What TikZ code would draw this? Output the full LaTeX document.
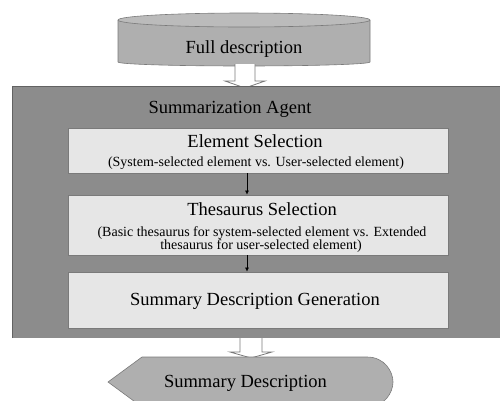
\documentclass[tikz,border=0pt]{standalone}
\usepackage{fontspec}
\setmainfont{Liberation Serif}
\usetikzlibrary{arrows.meta, positioning}
\definecolor{agentgray}{HTML}{8C8C8C}
\definecolor{boxfill}{HTML}{E6E6E6}
\definecolor{shapegray}{HTML}{AFAFAF}
\definecolor{edgegray}{HTML}{7A7A7A}

\begin{document}
\begin{tikzpicture}[x=1pt,y=-1pt,
  stepbox/.style={draw=edgegray, fill=boxfill, line width=0.9pt, minimum width=380pt, inner sep=0pt},
  hollow/.style={draw=edgegray, fill=white, line width=0.8pt, line join=miter},
  title/.style={font=\fontsize{18.5}{20}\selectfont, anchor=base, inner sep=0pt},
  sub/.style={font=\fontsize{14}{15}\selectfont, anchor=base, inner sep=0pt}]
  \useasboundingbox (0,0) rectangle (500,400);
  % full description (cylinder)
  \draw[fill=shapegray, draw=edgegray, line width=0.6pt] (118,20) -- (118,62)
    arc[start angle=180, end angle=0, x radius=126, y radius=4] -- (370,20);
  \draw[fill=shapegray!85!white, draw=edgegray, line width=0.6pt] (244,20) ellipse[x radius=126, y radius=7];
  \node[title] (full) at (244,53) {Full description};
  % hollow arrow into the agent
  \draw[hollow] (235,64) -- (235,81) -- (225,81) -- (245,88) -- (265,81) -- (255,81) -- (255,64);
  % agent
  \fill[agentgray] (12,86) rectangle (505,338);
  \draw[edgegray!80!black, line width=0.6pt] (12,338) -- (12,86) -- (505,86);
  \node[title] (agent) at (230,113) {Summarization Agent};
  % steps
  \node[stepbox, minimum height=45pt] (elem) at (258,150.5) {};
  \node[title] (elemT) at (255,147) {Element Selection};
  \node[sub] (elemS) at (256,166) {(System-selected element vs. User-selected element)};
  \node[stepbox, minimum height=60pt] (thes) at (258,225) {};
  \node[title] (thesT) at (262,215) {Thesaurus Selection};
  \node[sub] (thesS) at (262,236) {(Basic thesaurus for system-selected element vs. Extended};
  \node[sub] (thesS2) at (261,249) {thesaurus for user-selected element)};
  \node[stepbox, minimum height=56pt] (gen) at (258,300) {};
  \node[title] (genT) at (255,305) {Summary Description Generation};
  \draw[-{Latex[length=4pt,width=4pt]}, line width=0.6pt] ([xshift=-11pt]elem.south) -- ([xshift=-11pt]thes.north);
  \draw[-{Latex[length=4pt,width=4pt]}, line width=0.6pt] ([xshift=-11pt]thes.south) -- ([xshift=-11pt]gen.north);
  % hollow arrow out of the agent
  \draw[hollow] (240,338) -- (240,352) -- (230,352) -- (251,358) -- (272,352) -- (262,352) -- (262,338);
  % summary description (display shape)
  \draw[fill=shapegray, draw=edgegray, line width=0.6pt] (108,382) -- (142,357) -- (367,357)
    .. controls (385,357) and (393,372) .. (393,382)
    .. controls (393,392) and (385,407) .. (367,407) -- (142,407) -- cycle;
  \node[title] (summary) at (245.5,387) {Summary Description};
\end{tikzpicture}
\end{document}
